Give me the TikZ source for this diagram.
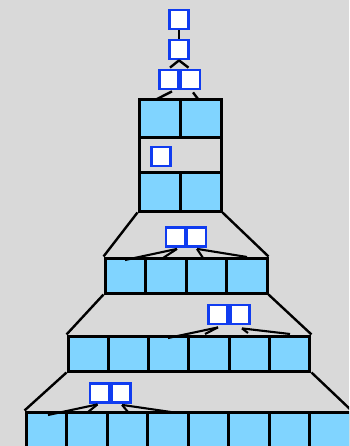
\documentclass[tikz,border=0pt]{standalone}
\usetikzlibrary{calc}
\definecolor{bgc}{RGB}{217,217,217}
\definecolor{cellc}{RGB}{128,212,255}
\definecolor{bluec}{RGB}{16,60,240}
\begin{document}
\begin{tikzpicture}[x=1pt,y=-1pt,
  cell/.style={draw=black,fill=cellc,line width=3pt,inner sep=0pt,minimum width=40.5pt,minimum height=35pt},
  frame/.style={draw=black,line width=3pt,inner sep=0pt},
  sbox/.style={draw=bluec,fill=white,line width=2.8pt,inner sep=0pt,minimum size=19pt},
  link/.style={draw=black,line width=2.4pt},
  fan/.style={draw=black,line width=2.1pt}]
\useasboundingbox (0,0) rectangle (349,446);
\clip (0,0) rectangle (349,446);
\fill[bgc] (0,0) rectangle (349,446);

% top chain
\node[sbox] (t1) at (179,19.5) {};
\node[sbox] (t2) at (179,49.5) {};
\node[sbox] (p1a) at (169,79.5) {};
\node[sbox] (p1b) at (190.5,79.5) {};

% big box
\node[cell,minimum width=41pt,minimum height=38pt] (b1) at (159.5,119) {};
\node[cell,minimum width=41pt,minimum height=38pt] (b2) at (200.5,119) {};
\node[cell,minimum width=41pt,minimum height=38pt] (b3) at (159.5,192) {};
\node[cell,minimum width=41pt,minimum height=38pt] (b4) at (200.5,192) {};
\node[frame,minimum width=82pt,minimum height=111pt] (bf) at (180,155.5) {};
\node[sbox] (s) at (161,156.5) {};

% level 2
\foreach \i in {1,...,4} {
  \node[cell] (c\i) at ({105+20.25+40.5*(\i-1)},275.5) {};
}
\node[sbox] (p2a) at (175.5,237) {};
\node[sbox] (p2b) at (196.5,237) {};

% level 3
\foreach \i in {1,...,6} {
  \node[cell,minimum width=40.33pt] (d\i) at ({68+20.17+40.33*(\i-1)},353.5) {};
}
\node[sbox] (p3a) at (218,314.5) {};
\node[sbox] (p3b) at (240,314.5) {};

% level 4
\foreach \i in {1,...,8} {
  \node[cell,minimum height=40pt] (e\i) at ({26+20.25+40.5*(\i-1)},432) {};
}
\node[sbox] (p4a) at (99.5,393) {};
\node[sbox] (p4b) at (121,393) {};

% top connectors
\draw[link] (t1.south) -- (t2.north);
\draw[link] (t2.south) -- ($(p1a.north)+(1,-1)$);
\draw[link] (t2.south) -- ($(p1b.north)+(-2,-1)$);
\coordinate (q1) at (157,99);
\coordinate (q2) at (198,99);
\draw[link] ($(p1a.south)+(3,1)$) -- (q1);
\draw[link] ($(p1b.south)+(2.5,2)$) -- (q2);

% trapezoids
\draw[link] (bf.south west) -- (c1.north west);
\draw[link] (bf.south east) -- (c4.north east);
\draw[link] (c1.south west) -- (d1.north west);
\draw[link] (c4.south east) -- (d6.north east);
\draw[link] (d1.south west) -- (e1.north west);
\draw[link] (d6.south east) -- (e8.north east);

% fans level 2
\coordinate (f21) at (125,260);
\coordinate (f22) at (163,258);
\coordinate (f23) at (203,258);
\coordinate (f24) at (247,257);
\draw[fan] ($(p2a.south)+(1.5,1)$) -- (f21);
\draw[fan] ($(p2a.south)+(1.5,1)$) -- (f22);
\draw[fan] ($(p2b.south)+(0.5,1)$) -- (f23);
\draw[fan] ($(p2b.south)+(0.5,1)$) -- (f24);

% fans level 3
\coordinate (f31) at (168,338);
\coordinate (f32) at (205,334);
\coordinate (f33) at (248,333);
\coordinate (f34) at (290,334);
\draw[fan] ($(p3a.south)+(0,2)$) -- (f31);
\draw[fan] ($(p3a.south)+(0,2)$) -- (f32);
\draw[fan] ($(p3b.south)+(2,3)$) -- (f33);
\draw[fan] ($(p3b.south)+(2,3)$) -- (f34);

% fans level 4
\coordinate (f41) at (48,415);
\coordinate (f42) at (88,412);
\coordinate (f43) at (128,412);
\coordinate (f44) at (171,412);
\draw[fan] ($(p4a.south)+(-2,0.5)$) -- (f41);
\draw[fan] ($(p4a.south)+(-2,0.5)$) -- (f42);
\draw[fan] ($(p4b.south)+(1,1)$) -- (f43);
\draw[fan] ($(p4b.south)+(1,1)$) -- (f44);
\end{tikzpicture}
\end{document}
